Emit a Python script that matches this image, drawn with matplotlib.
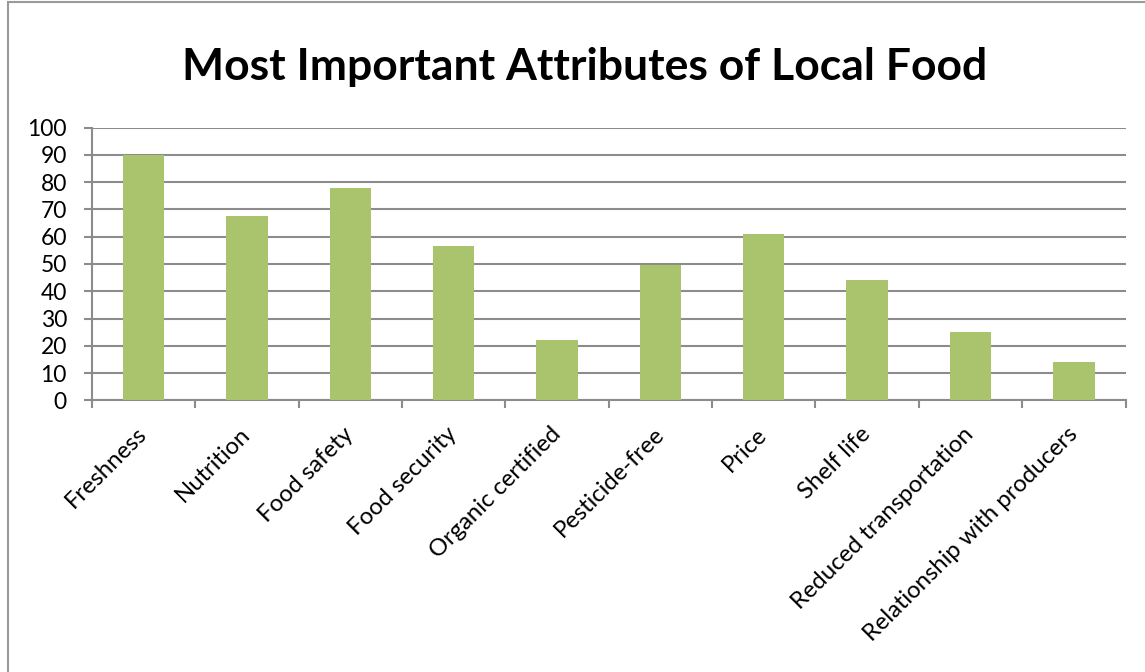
import numpy as np
import matplotlib.pyplot as plt
from matplotlib.patches import Rectangle

# data
categories = ['Freshness', 'Nutrition', 'Food safety', 'Food security', 'Organic certified',
              'Pesticide-free', 'Price', 'Shelf life', 'Reduced transportation',
              'Relationship with producers']
values = [90, 67.5, 78, 56.5, 22, 49.5, 61, 44, 25, 14]
yticks = list(range(0, 101, 10))

bar_color = '#A9C46C'
grid_color = '#8C8C8C'

plt.rcParams['font.family'] = ['Lato', 'DejaVu Sans']

fig = plt.figure(figsize=(11.45, 6.72), dpi=100)
ax = fig.add_axes([0.0803, 0.4043, 0.9027, 0.4057])

x = np.arange(len(categories))
ax.bar(x, values, width=0.4, color=bar_color, zorder=3)

ax.set_xlim(-0.5, len(categories) - 0.5)
ax.set_ylim(0, 100)
ax.set_yticks(yticks)
ax.set_yticklabels([str(v) for v in yticks], fontsize=16.5)
ax.yaxis.grid(True, color=grid_color, linewidth=1.5, zorder=0)

# category labels at centers, ticks at the boundaries
ax.set_xticks(x)
ax.set_xticklabels(categories, rotation=45, ha='right', va='center',
                   rotation_mode='anchor', fontsize=17.2)
ax.tick_params(axis='x', length=0, pad=22)
ax.set_xticks(np.arange(-0.5, len(categories)), minor=True)
ax.tick_params(axis='x', which='minor', length=6, width=1.5, color=grid_color)
ax.tick_params(axis='y', length=6, width=1.5, color=grid_color, pad=12)

for s in ['top', 'right']:
    ax.spines[s].set_visible(False)
for s in ['left', 'bottom']:
    ax.spines[s].set_color(grid_color)
    ax.spines[s].set_linewidth(1.5)

fig.text(0.511, 0.900, 'Most Important Attributes of Local Food', ha='center', va='center',
         fontsize=32, fontweight='bold')

# chart area border
border = Rectangle((8 / 1145, -0.05), 1.2, 1.05 - 2 / 672, transform=fig.transFigure,
                   fill=False, edgecolor='#9A9A9A', linewidth=1.5)
fig.patches.append(border)

fig.savefig('out.png', dpi=100)
